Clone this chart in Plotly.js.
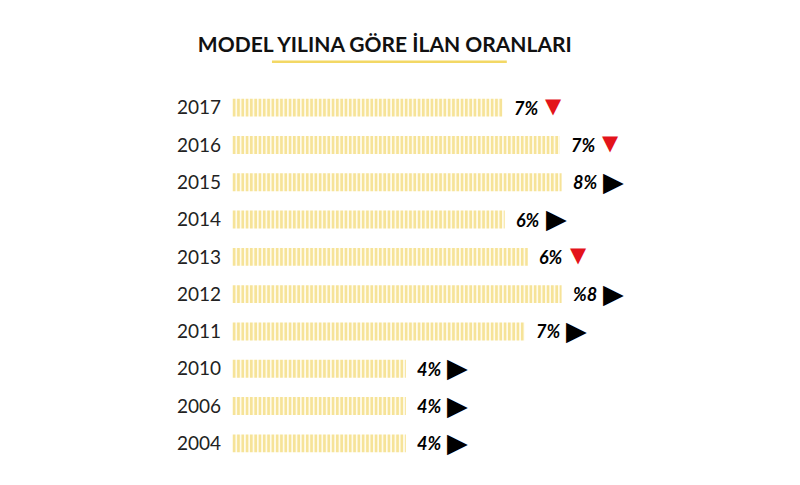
<!DOCTYPE html>
<html>
<head>
<meta charset="utf-8">
<script src="https://cdn.plot.ly/plotly-3.0.1.min.js"></script>
<style>
  body { margin: 0; background: #fff; }
  #chart { width: 800px; height: 485px; }
</style>
</head>
<body>
<div id="chart"></div>
<script>
var years = ['2017', '2016', '2015', '2014', '2013', '2012', '2011', '2010', '2006', '2004'];
var barValues = [6.57, 7.95, 8.0, 6.62, 7.18, 8.0, 7.1, 4.22, 4.22, 4.22];
var labels = ['7%', '7%', '8%', '6%', '6%', '%8', '7%', '4%', '4%', '4%'];
var trends = ['down', 'down', 'flat', 'flat', 'down', 'flat', 'flat', 'flat', 'flat', 'flat'];

var yellow = '#eecb45';
var rows = years.map(function (yr, i) { return i; });

var barTrace = {
    type: 'bar',
    orientation: 'h',
    x: barValues,
    y: rows,
    width: 0.48,
    marker: {
        color: yellow,
        line: { width: 0 },
        pattern: {
            shape: '|',
            fgcolor: yellow,
            bgcolor: '#fffbeb',
            size: 4.3,
            solidity: 0.6,
            fillmode: 'overlay'
        }
    },
    hoverinfo: 'skip'
};

var annotations = [];
years.forEach(function (yr, i) {
    var down = trends[i] === 'down';
    annotations.push({
        x: barValues[i],
        y: rows[i],
        xref: 'x',
        yref: 'y',
        xanchor: 'left',
        yanchor: 'middle',
        xshift: 9,
        showarrow: false,
        text: '<b><i>' + labels[i] + '</i></b>',
        font: { family: 'Lato, sans-serif', size: 18, color: '#000', weight: 900 }
    });
    annotations.push({
        x: barValues[i],
        y: rows[i],
        xref: 'x',
        yref: 'y',
        xanchor: 'left',
        yanchor: 'middle',
        xshift: down ? 40 : 39,
        yshift: down ? 2 : 1,
        showarrow: false,
        text: down ? '▼' : '▶',
        font: { family: 'DejaVu Sans', size: down ? 21 : 27, color: down ? '#e3131b' : '#000' }
    });
});

var layout = {
    width: 800,
    height: 485,
    paper_bgcolor: '#fff',
    plot_bgcolor: '#fff',
    showlegend: false,
    margin: { l: 232, r: 156, t: 89, b: 23 },
    title: {
        text: '<b>MODEL YILINA GÖRE İLAN ORANLARI</b>',
        font: { family: 'Lato, sans-serif', size: 21, color: '#111', weight: 900 },
        x: 0.481,
        xanchor: 'center',
        y: 0.907,
        yanchor: 'middle'
    },
    xaxis: {
        range: [0, 10],
        showgrid: false,
        zeroline: false,
        showline: false,
        showticklabels: false,
        fixedrange: true
    },
    yaxis: {
        range: [years.length - 0.5, -0.5],
        tickmode: 'array',
        tickvals: rows,
        ticktext: years,
        showgrid: false,
        zeroline: false,
        showline: false,
        ticks: '',
        ticklabelstandoff: 10,
        tickfont: { family: 'Lato, sans-serif', size: 19, color: '#222' },
        fixedrange: true
    },
    shapes: [{
        type: 'line',
        xref: 'paper',
        yref: 'paper',
        x0: 0.097,
        x1: 0.667,
        y0: 1.073,
        y1: 1.073,
        line: { color: '#f3d865', width: 2.5 }
    }],
    annotations: annotations
};

Plotly.newPlot('chart', [barTrace], layout, { displayModeBar: false, staticPlot: true });
</script>
</body>
</html>
